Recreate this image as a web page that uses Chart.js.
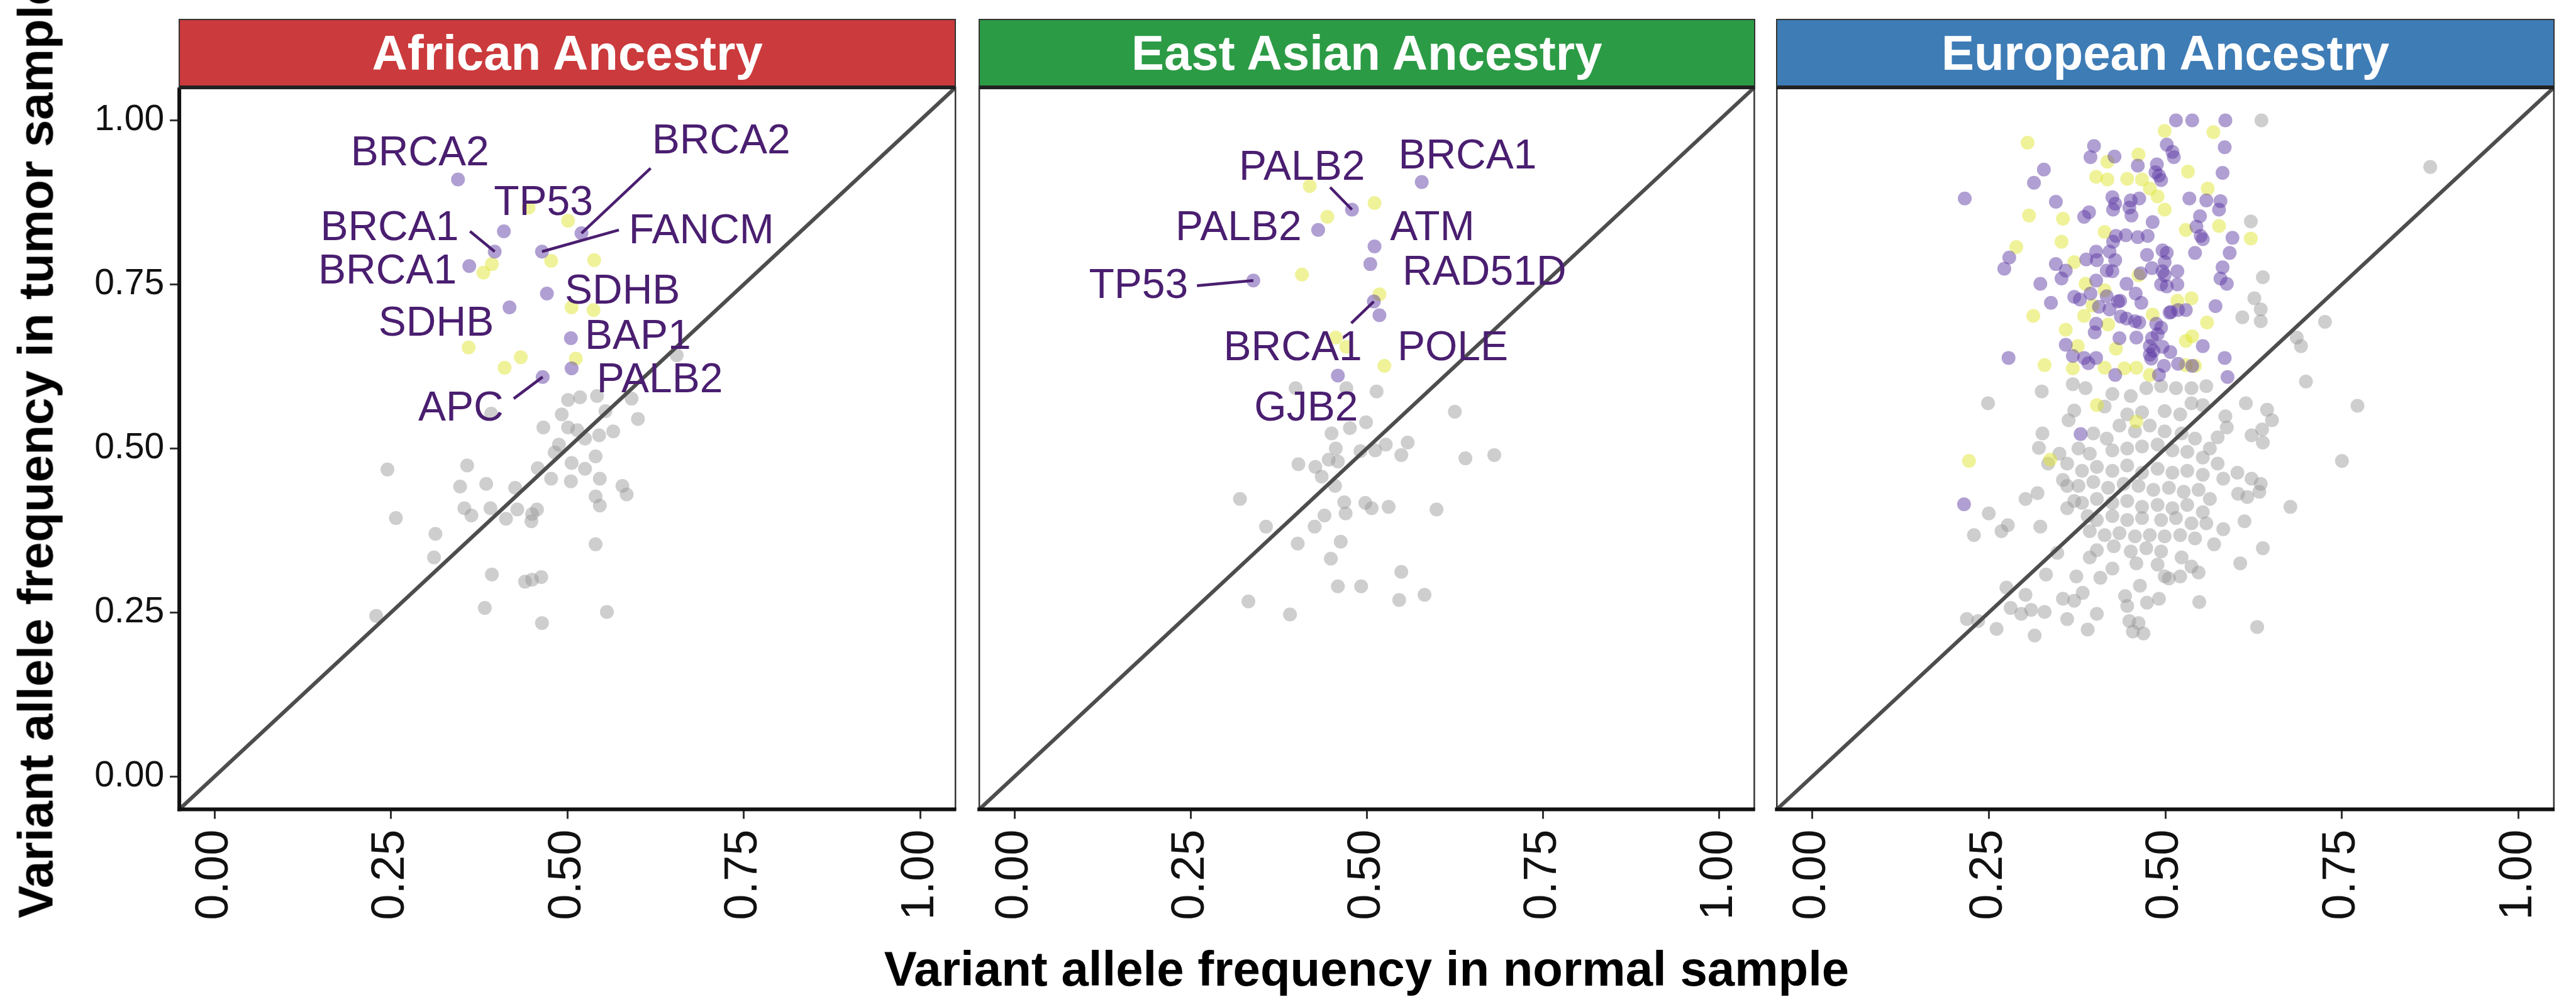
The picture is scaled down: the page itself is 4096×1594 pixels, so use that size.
<!DOCTYPE html>
<html>
<head>
<meta charset="utf-8">
<script src="https://cdn.jsdelivr.net/npm/chart.js@4.4.1/dist/chart.umd.min.js"></script>
<style>
html,body{margin:0;padding:0;background:#fff;width:4096px;height:1594px;overflow:hidden;font-family:"Liberation Sans",Arial,Helvetica,sans-serif;}
canvas{position:absolute;top:0;}
.strip{position:absolute;box-sizing:border-box;color:#fff;font-weight:bold;font-size:78px;display:flex;align-items:center;justify-content:center;border:2.5px solid #333;border-bottom:6px solid #222;white-space:nowrap;}
.title{position:absolute;font-weight:bold;font-size:78px;color:#000;white-space:nowrap;transform:translate(-50%,-50%);}
</style>
</head>
<body>
<script>
// ---------------- DATA ----------------
const PANEL_NAMES = ["African Ancestry", "East Asian Ancestry", "European Ancestry"];
const TICKS = [0, 0.25, 0.5, 0.75, 1.0];
const X_TITLE = "Variant allele frequency in normal sample";
const Y_TITLE = "Variant allele frequency in tumor sample";

// African ancestry
const AFR_GREY = [[0.501,0.574],[0.518,0.578],[0.542,0.580],[0.591,0.576],[0.554,0.557],[0.492,0.552],[0.600,0.545],[0.392,0.553],[0.466,0.532],[0.501,0.532],[0.514,0.528],[0.525,0.515],[0.545,0.520],[0.565,0.526],[0.488,0.506],[0.482,0.494],[0.540,0.488],[0.506,0.478],[0.458,0.470],[0.477,0.454],[0.525,0.469],[0.505,0.450],[0.546,0.454],[0.578,0.443],[0.584,0.430],[0.540,0.427],[0.546,0.413],[0.358,0.474],[0.245,0.468],[0.348,0.442],[0.385,0.446],[0.426,0.440],[0.354,0.409],[0.364,0.398],[0.391,0.409],[0.413,0.393],[0.429,0.407],[0.450,0.400],[0.457,0.407],[0.449,0.389],[0.257,0.394],[0.313,0.370],[0.311,0.334],[0.540,0.354],[0.393,0.308],[0.440,0.297],[0.450,0.300],[0.463,0.304],[0.383,0.257],[0.556,0.251],[0.464,0.234],[0.229,0.245],[0.655,0.642]];
const AFR_YELLOW = [[0.501,0.847],[0.477,0.786],[0.538,0.787],[0.393,0.781],[0.381,0.768],[0.506,0.715],[0.537,0.711],[0.360,0.654],[0.434,0.639],[0.411,0.623],[0.512,0.637],[0.445,0.867]];
const AFR_PURPLE = [[0.345,0.910],[0.520,0.828],[0.410,0.831],[0.397,0.800],[0.464,0.800],[0.361,0.778],[0.471,0.736],[0.418,0.715],[0.505,0.668],[0.506,0.622],[0.465,0.609]];
const AFR_GENES = ["BRCA2","BRCA2","TP53","BRCA1","FANCM","BRCA1","SDHB","SDHB","BAP1","PALB2","APC"];

// East Asian ancestry
const EAS_GREY = [[0.399,0.592],[0.471,0.592],[0.514,0.587],[0.625,0.556],[0.499,0.540],[0.476,0.531],[0.450,0.523],[0.558,0.509],[0.527,0.506],[0.512,0.497],[0.491,0.496],[0.456,0.500],[0.446,0.483],[0.459,0.480],[0.549,0.490],[0.640,0.485],[0.681,0.490],[0.403,0.476],[0.427,0.472],[0.436,0.457],[0.455,0.443],[0.320,0.423],[0.468,0.418],[0.498,0.417],[0.507,0.409],[0.531,0.411],[0.470,0.401],[0.440,0.398],[0.599,0.407],[0.357,0.381],[0.426,0.381],[0.402,0.355],[0.463,0.358],[0.449,0.332],[0.549,0.312],[0.459,0.290],[0.492,0.290],[0.332,0.267],[0.391,0.247],[0.546,0.269],[0.582,0.277]];
const EAS_YELLOW = [[0.419,0.900],[0.511,0.874],[0.444,0.853],[0.408,0.765],[0.518,0.735],[0.456,0.669],[0.471,0.655],[0.525,0.626]];
const EAS_PURPLE = [[0.578,0.906],[0.479,0.864],[0.431,0.833],[0.511,0.808],[0.505,0.781],[0.339,0.756],[0.510,0.724],[0.518,0.703],[0.459,0.611]];
const EAS_GENES = ["BRCA1","PALB2","PALB2","ATM","RAD51D","TP53","BRCA1","POLE","GJB2"];

// European ancestry
const EUR_PURPLE = [[0.515,1.000],[0.538,1.000],[0.585,1.000],[0.399,0.961],[0.502,0.963],[0.584,0.959],[0.394,0.944],[0.428,0.945],[0.510,0.952],[0.512,0.944],[0.328,0.925],[0.461,0.931],[0.488,0.933],[0.581,0.920],[0.314,0.905],[0.491,0.916],[0.494,0.909],[0.486,0.921],[0.216,0.881],[0.345,0.876],[0.425,0.883],[0.429,0.873],[0.451,0.878],[0.463,0.881],[0.534,0.881],[0.558,0.878],[0.578,0.877],[0.576,0.864],[0.385,0.853],[0.392,0.860],[0.426,0.864],[0.449,0.867],[0.452,0.855],[0.482,0.845],[0.549,0.854],[0.544,0.838],[0.550,0.824],[0.553,0.819],[0.595,0.821],[0.430,0.824],[0.426,0.815],[0.444,0.825],[0.461,0.822],[0.475,0.824],[0.279,0.791],[0.272,0.774],[0.345,0.781],[0.359,0.771],[0.353,0.759],[0.323,0.751],[0.388,0.788],[0.402,0.800],[0.403,0.787],[0.421,0.800],[0.429,0.787],[0.417,0.771],[0.425,0.770],[0.474,0.795],[0.496,0.802],[0.502,0.798],[0.499,0.784],[0.542,0.798],[0.591,0.798],[0.465,0.767],[0.481,0.775],[0.496,0.770],[0.499,0.764],[0.517,0.770],[0.581,0.776],[0.578,0.759],[0.587,0.751],[0.402,0.756],[0.445,0.751],[0.494,0.750],[0.502,0.747],[0.517,0.750],[0.371,0.731],[0.379,0.727],[0.394,0.736],[0.417,0.732],[0.436,0.725],[0.458,0.736],[0.466,0.722],[0.338,0.722],[0.406,0.716],[0.421,0.712],[0.433,0.724],[0.508,0.708],[0.518,0.711],[0.529,0.711],[0.506,0.707],[0.571,0.717],[0.437,0.701],[0.445,0.698],[0.457,0.694],[0.463,0.692],[0.402,0.690],[0.400,0.677],[0.487,0.690],[0.494,0.684],[0.489,0.674],[0.435,0.668],[0.459,0.669],[0.481,0.668],[0.359,0.658],[0.553,0.656],[0.478,0.656],[0.483,0.649],[0.496,0.655],[0.369,0.641],[0.385,0.638],[0.391,0.630],[0.402,0.638],[0.478,0.643],[0.480,0.637],[0.507,0.647],[0.518,0.629],[0.278,0.638],[0.584,0.638],[0.429,0.612],[0.498,0.626],[0.491,0.612],[0.538,0.626],[0.588,0.609],[0.380,0.522],[0.215,0.415]];
const EUR_YELLOW = [[0.305,0.966],[0.499,0.984],[0.568,0.982],[0.418,0.937],[0.462,0.948],[0.532,0.922],[0.402,0.914],[0.418,0.910],[0.446,0.911],[0.467,0.910],[0.560,0.896],[0.478,0.896],[0.489,0.884],[0.499,0.864],[0.307,0.855],[0.355,0.850],[0.289,0.807],[0.353,0.815],[0.414,0.830],[0.529,0.833],[0.576,0.839],[0.621,0.820],[0.371,0.784],[0.387,0.751],[0.313,0.702],[0.385,0.702],[0.482,0.704],[0.559,0.692],[0.537,0.729],[0.517,0.725],[0.359,0.681],[0.376,0.656],[0.430,0.652],[0.529,0.664],[0.538,0.671],[0.329,0.627],[0.369,0.622],[0.414,0.623],[0.442,0.622],[0.459,0.623],[0.478,0.612],[0.529,0.627],[0.542,0.626],[0.403,0.566],[0.459,0.541],[0.222,0.481],[0.337,0.483],[0.414,0.741],[0.397,0.718],[0.462,0.764],[0.419,0.689]];
const EUR_GREY = [[0.636,1.000],[0.875,0.929],[0.621,0.846],[0.638,0.761],[0.626,0.729],[0.635,0.712],[0.635,0.694],[0.609,0.700],[0.726,0.693],[0.686,0.669],[0.692,0.656],[0.699,0.602],[0.772,0.565],[0.750,0.481],[0.677,0.411],[0.638,0.348],[0.630,0.228],[0.249,0.569],[0.325,0.587],[0.369,0.598],[0.387,0.592],[0.371,0.558],[0.363,0.543],[0.326,0.523],[0.321,0.501],[0.302,0.423],[0.319,0.432],[0.250,0.401],[0.229,0.368],[0.268,0.374],[0.277,0.383],[0.323,0.381],[0.331,0.308],[0.275,0.288],[0.302,0.277],[0.281,0.257],[0.296,0.248],[0.310,0.254],[0.329,0.251],[0.219,0.240],[0.235,0.237],[0.261,0.225],[0.315,0.215],[0.361,0.240],[0.390,0.224],[0.449,0.237],[0.462,0.234],[0.454,0.221],[0.469,0.218],[0.355,0.271],[0.371,0.268],[0.383,0.280],[0.443,0.275],[0.491,0.271],[0.548,0.266],[0.347,0.341],[0.374,0.305],[0.408,0.303],[0.425,0.317],[0.464,0.291],[0.499,0.305],[0.521,0.305],[0.537,0.320],[0.547,0.311],[0.606,0.325],[0.523,0.334],[0.569,0.354],[0.582,0.377],[0.612,0.389],[0.616,0.426],[0.633,0.434],[0.603,0.431],[0.635,0.446],[0.622,0.454],[0.602,0.463],[0.582,0.454],[0.637,0.529],[0.638,0.509],[0.622,0.520],[0.614,0.569],[0.644,0.559],[0.651,0.543],[0.585,0.549],[0.587,0.532],[0.574,0.517],[0.553,0.566],[0.537,0.569],[0.558,0.595],[0.537,0.592],[0.515,0.592],[0.494,0.595],[0.473,0.592],[0.451,0.580],[0.425,0.583],[0.414,0.564],[0.446,0.552],[0.467,0.555],[0.499,0.557],[0.521,0.552],[0.435,0.535],[0.457,0.526],[0.478,0.535],[0.499,0.526],[0.523,0.523],[0.542,0.515],[0.563,0.500],[0.398,0.523],[0.417,0.515],[0.377,0.500],[0.350,0.492],[0.334,0.477],[0.361,0.477],[0.393,0.492],[0.425,0.497],[0.446,0.500],[0.467,0.503],[0.489,0.506],[0.510,0.497],[0.531,0.495],[0.553,0.486],[0.574,0.477],[0.382,0.466],[0.403,0.472],[0.425,0.466],[0.446,0.474],[0.467,0.463],[0.489,0.469],[0.510,0.463],[0.531,0.466],[0.553,0.460],[0.355,0.452],[0.377,0.443],[0.398,0.449],[0.419,0.440],[0.441,0.446],[0.462,0.443],[0.483,0.437],[0.505,0.440],[0.526,0.434],[0.547,0.437],[0.563,0.423],[0.361,0.409],[0.382,0.417],[0.403,0.423],[0.425,0.417],[0.446,0.420],[0.467,0.411],[0.489,0.414],[0.510,0.409],[0.531,0.414],[0.553,0.403],[0.403,0.391],[0.425,0.397],[0.446,0.391],[0.467,0.394],[0.494,0.391],[0.515,0.394],[0.537,0.386],[0.558,0.386],[0.393,0.374],[0.414,0.368],[0.435,0.371],[0.457,0.366],[0.478,0.368],[0.499,0.366],[0.521,0.368],[0.542,0.363],[0.403,0.345],[0.427,0.351],[0.451,0.343],[0.473,0.348],[0.494,0.343],[0.393,0.334],[0.459,0.325],[0.489,0.323],[0.505,0.302],[0.371,0.420],[0.361,0.443],[0.390,0.397],[0.446,0.260],[0.474,0.265],[0.403,0.248]];

// ---------------- LAYOUT / STYLE ----------------
// label placement in data units: [text centre x, text centre y, segment start x, segment start y]
const AFR_LABEL_AT = [[0.291,0.952],[0.718,0.970,0.618,0.927],[0.466,0.876],[0.248,0.838,0.362,0.831],[0.690,0.833,0.573,0.833],[0.245,0.772],[0.578,0.741],[0.314,0.692],[0.600,0.672],[0.631,0.606],[0.349,0.563,0.424,0.576]];
const EAS_LABEL_AT = [[0.643,0.947],[0.408,0.930,0.448,0.898],[0.318,0.838],[0.593,0.838],[0.667,0.770],[0.176,0.750,0.259,0.748],[0.395,0.655,0.478,0.691],[0.622,0.655],[0.414,0.563]];

const FONT = '"Liberation Sans", Arial, Helvetica, sans-serif';
const W = 4096, H = 1594;
const AREA_TOP = 139.3, AREA_BOTTOM = 1287.6;
const AREAS = [{l:285.1, r:1519.2}, {l:1557.1, r:2789.4}, {l:2825.3, r:4060.8}];
const STRIP_COLORS = ["#CB3A3C", "#2C9B45", "#3E7CB6"];
const C_GREY = "rgba(150,150,150,0.47)";
const C_YELLOW = "rgba(222,228,40,0.48)";
const C_PURPLE = "rgba(90,55,160,0.48)";
const LABEL_COLOR = "#4A1E70";
const PT_R = 11;
const X_AXIS_H = 250;

Chart.defaults.font.family = FONT;

const facetPlugin = {
  id: 'facet',
  afterDatasetsDraw(chart, args, o) {
    const {ctx, chartArea: a, scales: {x, y}} = chart;
    ctx.save();
    if (o.genes) {
      ctx.font = '66px ' + FONT;
      ctx.fillStyle = LABEL_COLOR;
      ctx.strokeStyle = LABEL_COLOR;
      ctx.lineWidth = 4.5;
      ctx.lineCap = 'butt';
      ctx.textAlign = 'center';
      ctx.textBaseline = 'middle';
      o.points.forEach((p, i) => {
        const L = o.layout[i];
        const px = x.getPixelForValue(p[0]), py = y.getPixelForValue(p[1]);
        if (L.length > 2) {
          ctx.beginPath();
          ctx.moveTo(x.getPixelForValue(L[2]), y.getPixelForValue(L[3]));
          ctx.lineTo(px, py);
          ctx.stroke();
        }
        ctx.fillText(o.genes[i], x.getPixelForValue(L[0]), y.getPixelForValue(L[1]) + 3);
      });
    }
    ctx.strokeStyle = '#333';
    ctx.lineWidth = 2.5;
    ctx.strokeRect(a.left, a.top, a.right - a.left, a.bottom - a.top);
    ctx.strokeStyle = '#111';
    ctx.lineWidth = 6;
    ctx.beginPath();
    ctx.moveTo(a.left - 3, a.bottom);
    ctx.lineTo(a.right + 1.25, a.bottom);
    ctx.stroke();
    if (o.leftAxis) {
      ctx.beginPath();
      ctx.moveTo(a.left, a.top);
      ctx.lineTo(a.left, a.bottom + 3);
      ctx.stroke();
    }
    ctx.restore();
  }
};

const toXY = arr => arr.map(([x, y]) => ({x, y}));
const noPad = s => { s.paddingLeft = 0; s.paddingRight = 0; s.paddingTop = 0; s.paddingBottom = 0; };

function makePanel(i, grey, yellow, purple, genes, layout) {
  const A = AREAS[i];
  const left = i === 0 ? 0 : Math.floor(A.l - 40);
  const right = Math.ceil(A.r + 20);
  const cv = document.createElement('canvas');
  cv.width = right - left; cv.height = H;
  cv.style.left = left + 'px';
  cv.style.width = (right - left) + 'px';
  cv.style.height = H + 'px';
  document.body.appendChild(cv);
  const yAxisW = i === 0 ? A.l : 0;
  const tickFmt = v => Number(v).toFixed(2);
  new Chart(cv, {
    type: 'scatter',
    data: {
      datasets: [
        {type: 'line', data: [{x: -0.05, y: -0.05}, {x: 1.05, y: 1.05}], borderColor: '#4d4d4d', borderWidth: 6, pointRadius: 0, order: 0},
        {data: toXY(purple), backgroundColor: C_PURPLE, borderWidth: 0, pointRadius: PT_R, order: 1},
        {data: toXY(yellow), backgroundColor: C_YELLOW, borderWidth: 0, pointRadius: PT_R, order: 2},
        {data: toXY(grey), backgroundColor: C_GREY, borderWidth: 0, pointRadius: PT_R, order: 3}
      ]
    },
    options: {
      responsive: false, animation: false, events: [],
      layout: {autoPadding: false, padding: {left: A.l - left - yAxisW, right: right - A.r, top: AREA_TOP, bottom: H - X_AXIS_H - AREA_BOTTOM}},
      plugins: {legend: {display: false}, tooltip: {enabled: false},
        facet: {points: purple, genes: genes, layout: layout, leftAxis: i === 0}},
      scales: {
        x: {
          type: 'linear', min: -0.05, max: 1.05,
          afterBuildTicks: s => { s.ticks = TICKS.map(v => ({value: v})); },
          afterFit: s => { s.height = X_AXIS_H; noPad(s); },
          border: {display: false},
          grid: {display: true, drawOnChartArea: false, drawTicks: true, tickLength: 15, tickWidth: 3, tickColor: '#333', color: '#333'},
          ticks: {autoSkip: false, minRotation: 90, maxRotation: 90, padding: 17, color: '#111', font: {size: 74, family: FONT}, callback: tickFmt}
        },
        y: {
          type: 'linear', min: -0.05, max: 1.05, display: i === 0,
          afterBuildTicks: s => { s.ticks = TICKS.map(v => ({value: v})); },
          afterFit: s => { s.width = yAxisW; noPad(s); },
          border: {display: false},
          grid: {display: true, drawOnChartArea: false, drawTicks: true, tickLength: 15, tickWidth: 3, tickColor: '#333', color: '#333'},
          ticks: {autoSkip: false, padding: 9, color: '#111', font: {size: 57, family: FONT}, callback: tickFmt}
        }
      }
    },
    plugins: [facetPlugin]
  });
  const s = document.createElement('div');
  s.className = 'strip';
  s.style.left = (A.l - 1.25) + 'px';
  s.style.width = (A.r - A.l + 2.5) + 'px';
  s.style.top = '30px';
  s.style.height = (AREA_TOP + 3 - 30) + 'px';
  s.style.background = STRIP_COLORS[i];
  s.textContent = PANEL_NAMES[i];
  document.body.appendChild(s);
}

makePanel(0, AFR_GREY, AFR_YELLOW, AFR_PURPLE, AFR_GENES, AFR_LABEL_AT);
makePanel(1, EAS_GREY, EAS_YELLOW, EAS_PURPLE, EAS_GENES, EAS_LABEL_AT);
makePanel(2, EUR_GREY, EUR_YELLOW, EUR_PURPLE, null, null);

const xt = document.createElement('div');
xt.className = 'title';
xt.textContent = X_TITLE;
xt.style.left = ((AREAS[0].l + AREAS[2].r) / 2) + 'px';
xt.style.top = '1541px';
document.body.appendChild(xt);

const yt = document.createElement('div');
yt.className = 'title';
yt.textContent = Y_TITLE;
yt.style.left = '57px';
yt.style.top = ((AREA_TOP + AREA_BOTTOM) / 2) + 'px';
yt.style.transform = 'translate(-50%,-50%) rotate(-90deg)';
document.body.appendChild(yt);
</script>
</body>
</html>
